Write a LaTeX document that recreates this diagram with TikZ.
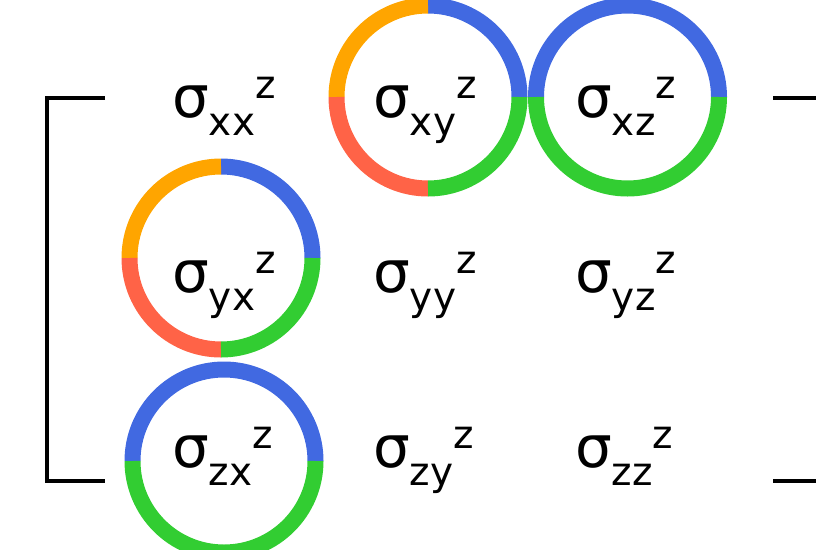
\documentclass[tikz,border=0pt]{standalone}
\usepackage{fontspec}
\setmainfont{DejaVu Sans}
\usetikzlibrary{positioning}
\definecolor{segblue}{HTML}{4169E1}
\definecolor{seggreen}{HTML}{32CD32}
\definecolor{segorange}{HTML}{FFA500}
\definecolor{segred}{HTML}{FF6347}
\newcommand{\comp}[2]{{\fontsize{58}{60}\selectfont σ}{\fontsize{39}{40}\selectfont\raisebox{-18pt}{#1}\raisebox{19pt}{#2}}}

\begin{document}
\begin{tikzpicture}[x=1pt,y=1pt,
        entry/.style={anchor=base west,inner sep=0pt},
        ring/.style={line width=16pt},
        bracket/.style={line width=4.5pt}]
        \useasboundingbox (0,0) rectangle (816,-549);
        \clip (0,0) rectangle (816,-549);

        % matrix entries
        \node[entry] (sxx) at (172,-117) {\comp{xx}{z}};
        \node[entry] (sxy) at (373,-117) {\comp{xy}{z}};
        \node[entry] (sxz) at (575,-117) {\comp{xz}{z}};
        \node[entry] (syx) at (172,-292) {\comp{yx}{z}};
        \node[entry] (syy) at (373,-292) {\comp{yy}{z}};
        \node[entry] (syz) at (575,-292) {\comp{yz}{z}};
        \node[entry] (szx) at (172,-467) {\comp{zx}{z}};
        \node[entry] (szy) at (373,-467) {\comp{zy}{z}};
        \node[entry] (szz) at (575,-467) {\comp{zz}{z}};

        % rings
        \coordinate (cxy) at (428,-97);
        \coordinate (cxz) at (627.5,-97);
        \coordinate (cyx) at (221,-258);
        \coordinate (czx) at (224,-461);
        \foreach \c in {cxy,cyx}
          \foreach \a/\col in {0/segblue,90/segorange,180/segred,270/seggreen}
            \draw[ring,\col] (\c) ++(\a:91.5) arc[start angle=\a,delta angle=90,radius=91.5];
        \foreach \c in {cxz,czx}
          \foreach \a/\col in {0/segblue,180/seggreen}
            \draw[ring,\col] (\c) ++(\a:91.5) arc[start angle=\a,delta angle=180,radius=91.5];

        % brackets
        \draw[bracket] (105,-98) -| (47,-481) -- (105,-481);
        \draw[bracket] (773,-98) -| (832,-481) -- (773,-481);
    \end{tikzpicture}
\end{document}
